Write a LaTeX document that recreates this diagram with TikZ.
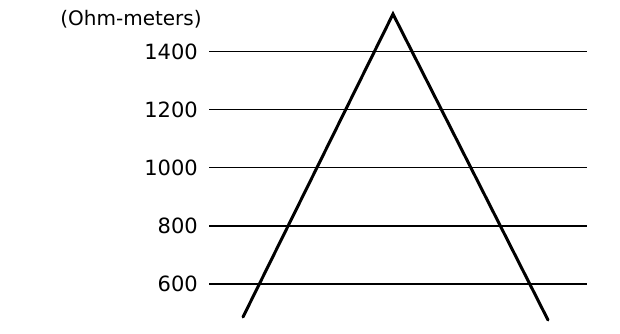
\documentclass[tikz,border=0pt]{standalone}
\usepackage{fontspec}
\setmainfont{DejaVu Sans}
\begin{document}
\begin{tikzpicture}[x=1pt,y=-1pt,
  level/.style={line width=1.7pt},
  slope/.style={line width=3pt,line cap=round,line join=miter},
  lab/.style={anchor=east,inner sep=0pt,font=\fontsize{21}{23}\selectfont}]
\useasboundingbox (0,0) rectangle (620,333);
\foreach \v/\y in {1400/51.5,1200/109.5,1000/167.5,800/226,600/284}{
  \node[lab] (l\v) at (198,\y) {\v};
  \coordinate (a\v) at (209,\y);
  \coordinate (b\v) at (587,\y);
  \draw[level] (a\v) -- (b\v);
}
\node[anchor=center,inner sep=0pt,font=\fontsize{20}{22}\selectfont] (unit) at (131,19) {(Ohm-meters)};
\coordinate (left) at (243,317);
\coordinate (apex) at (393,14);
\coordinate (right) at (548,320);
\draw[slope] (left) -- (apex) -- (right);
\end{tikzpicture}
\end{document}
